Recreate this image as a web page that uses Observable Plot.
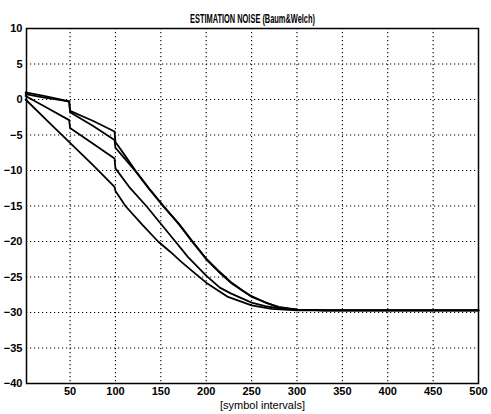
<!DOCTYPE html>
<html>
<head>
<meta charset="utf-8">
<script src="https://cdn.jsdelivr.net/npm/d3@7"></script>
<script src="https://cdn.jsdelivr.net/npm/@observablehq/plot@0.6"></script>
<style>
  html, body { margin: 0; padding: 0; background: #fff; }
</style>
</head>
<body>
<div id="chart"></div>
<script>
const titleText = "ESTIMATION NOISE (Baum&Welch)";
const xLabelText = "[symbol intervals]";
const xTicks = [50, 100, 150, 200, 250, 300, 350, 400, 450, 500];
const yTicks = [-40, -35, -30, -25, -20, -15, -10, -5, 0, 5, 10];

const aX = [1, 25, 49, 50, 75, 99, 100, 110, 122, 137, 153, 170, 185, 200, 215, 227, 240, 250, 265, 280, 300, 330, 400, 500];
const aY = [1.0, 0.4, -0.25, -1.6, -3.0, -4.5, -6.0, -7.8, -10.0, -12.5, -15.0, -17.5, -20.0, -22.4, -24.3, -25.7, -26.9, -27.7, -28.6, -29.2, -29.6, -29.7, -29.7, -29.7];

const bX = [1, 20, 40, 49, 50, 75, 99, 100, 110, 122, 137, 153, 170, 185, 200, 215, 227, 250, 280, 300, 330, 500];
const bY = [0.75, 0.3, -0.1, -0.3, -1.8, -3.7, -5.7, -6.8, -8.3, -10.1, -12.6, -15.1, -17.6, -20.1, -22.5, -24.4, -25.8, -27.8, -29.3, -29.6, -29.7, -29.7];

const cX = [1, 25, 49, 50, 75, 99, 100, 115, 134, 150, 166, 180, 190, 200, 215, 227, 250, 265, 280, 300, 330, 500];
const cY = [0.5, -1.2, -2.9, -4.0, -6.2, -8.3, -9.7, -12.3, -15.0, -17.5, -20.0, -22.2, -23.5, -24.8, -26.5, -27.3, -28.6, -29.1, -29.4, -29.6, -29.7, -29.7];

const dX = [1, 25, 50, 75, 99, 100, 111, 130, 147, 160, 172, 185, 200, 224, 250, 272, 300, 500];
const dY = [0.0, -3.0, -6.1, -9.2, -12.3, -12.9, -15.0, -17.7, -20.0, -21.4, -22.8, -24.2, -25.8, -27.8, -29.0, -29.5, -29.7, -29.7];

const rows = [];
[["A", aX, aY], ["B", bX, bY], ["C", cX, cY], ["D", dX, dY]].forEach(([s, xs, ys]) => {
  xs.forEach((x, i) => rows.push({series: s, x, y: ys[i]}));
});

const fmt = d => String(d);
const chart = Plot.plot({
  width: 491,
  height: 414,
  marginLeft: 26,
  marginRight: 13,
  marginTop: 28,
  marginBottom: 31,
  style: {fontFamily: "'Liberation Sans', Arial, sans-serif", fontSize: "11px", color: "black", background: "white"},
  x: {domain: [2, 500], label: null},
  y: {domain: [-40, 10], label: null},
  marks: [
    Plot.ruleX(xTicks.slice(0, -1), {stroke: "black", strokeWidth: 1.1, strokeDasharray: "1.2,2.8"}),
    Plot.ruleY(yTicks.slice(1, -1), {stroke: "black", strokeWidth: 1.1, strokeDasharray: "1.2,2.8"}),
    Plot.line(rows, {x: "x", y: "y", z: "series", stroke: "black", strokeWidth: 1.8}),
    Plot.frame({stroke: "black", strokeWidth: 1.5}),
    Plot.axisX(xTicks, {anchor: "bottom", tickSize: 0, tickPadding: 4, fontWeight: "bold", fontSize: 11, tickFormat: fmt, label: null}),
    Plot.axisY(yTicks, {anchor: "left", tickSize: 0, tickPadding: 4, fontWeight: "bold", fontSize: 11, label: null}),
    Plot.text([titleText], {frameAnchor: "top", dy: -14, fontSize: 12, fontWeight: "bold", text: d => d}),
    Plot.text([xLabelText], {frameAnchor: "bottom", dx: 10, dy: 25, fontSize: 11, text: d => d})
  ]
});
document.getElementById("chart").appendChild(chart);
d3.select(chart).selectAll("text").filter(function() { return this.textContent === titleText; })
  .attr("textLength", 125).attr("lengthAdjust", "spacingAndGlyphs");
</script>
</body>
</html>
